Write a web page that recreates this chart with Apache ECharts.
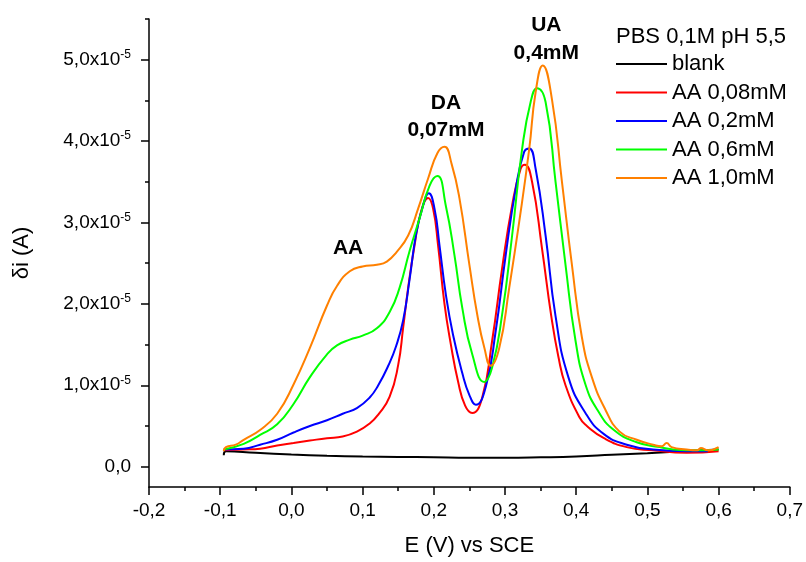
<!DOCTYPE html>
<html>
<head>
<meta charset="utf-8">
<script src="https://cdn.jsdelivr.net/npm/echarts@6/dist/echarts.min.js"></script>
<style>
  html, body { margin: 0; padding: 0; background: #ffffff; }
  #chart { width: 806px; height: 562px; }
</style>
</head>
<body>
<div id="chart"></div>
<script>
// Differential pulse voltammograms in PBS 0,1M pH 5,5.
// Potential E in V vs SCE, current δi in units of 1e-5 A.

const blankE = [-0.095, -0.092, -0.05, 0.0, 0.05, 0.1, 0.15, 0.2, 0.25, 0.3, 0.35, 0.4, 0.45, 0.5, 0.55, 0.6];
const blankI = [0.14, 0.19, 0.17, 0.15, 0.135, 0.125, 0.12, 0.115, 0.11, 0.11, 0.115, 0.125, 0.145, 0.165, 0.19, 0.21];

const aa008E = [-0.095, -0.067, -0.044, -0.020, 0.003, 0.026, 0.050, 0.072, 0.092, 0.110, 0.122, 0.138, 0.150, 0.157, 0.164, 0.173, 0.182, 0.192, 0.199, 0.206, 0.215, 0.224, 0.234, 0.244, 0.254, 0.268, 0.282, 0.296, 0.310, 0.322, 0.328, 0.338, 0.352, 0.365, 0.375, 0.385, 0.405, 0.415, 0.439, 0.471, 0.508, 0.555, 0.600];
const aa008I = [0.20, 0.21, 0.22, 0.26, 0.29, 0.32, 0.35, 0.37, 0.43, 0.53, 0.64, 0.86, 1.25, 1.71, 2.20, 2.72, 3.13, 3.30, 3.17, 2.72, 2.00, 1.50, 1.05, 0.75, 0.66, 0.85, 1.55, 2.44, 3.21, 3.66, 3.71, 3.50, 2.68, 1.85, 1.35, 1.00, 0.60, 0.50, 0.35, 0.24, 0.20, 0.17, 0.19];

const aa02E = [-0.095, -0.067, -0.044, -0.020, 0.003, 0.026, 0.050, 0.072, 0.092, 0.110, 0.122, 0.136, 0.147, 0.157, 0.166, 0.175, 0.185, 0.193, 0.201, 0.208, 0.217, 0.227, 0.240, 0.250, 0.259, 0.273, 0.287, 0.301, 0.315, 0.327, 0.334, 0.343, 0.357, 0.371, 0.389, 0.413, 0.439, 0.471, 0.508, 0.555, 0.585];
const aa02I = [0.21, 0.22, 0.27, 0.33, 0.42, 0.50, 0.57, 0.65, 0.72, 0.85, 1.00, 1.24, 1.48, 1.80, 2.30, 2.85, 3.21, 3.36, 3.17, 2.72, 2.11, 1.62, 1.15, 0.88, 0.76, 0.98, 1.67, 2.60, 3.41, 3.87, 3.91, 3.66, 2.84, 1.85, 1.10, 0.66, 0.40, 0.27, 0.21, 0.19, 0.19];

const aa06E = [-0.095, -0.067, -0.044, -0.020, 0.003, 0.026, 0.050, 0.064, 0.082, 0.100, 0.120, 0.138, 0.152, 0.166, 0.180, 0.194, 0.205, 0.217, 0.229, 0.240, 0.254, 0.271, 0.282, 0.296, 0.310, 0.324, 0.336, 0.345, 0.357, 0.371, 0.385, 0.399, 0.413, 0.431, 0.453, 0.485, 0.517, 0.536, 0.555, 0.580, 0.600];
const aa06I = [0.21, 0.28, 0.39, 0.52, 0.77, 1.10, 1.38, 1.49, 1.56, 1.61, 1.70, 1.90, 2.20, 2.65, 3.05, 3.45, 3.57, 3.20, 2.60, 1.95, 1.38, 1.04, 1.22, 1.87, 2.84, 3.90, 4.48, 4.65, 4.48, 3.50, 2.48, 1.55, 1.01, 0.68, 0.45, 0.30, 0.24, 0.21, 0.20, 0.20, 0.21];

const aa10E = [-0.095, -0.092, -0.078, -0.067, -0.044, -0.020, 0.003, 0.026, 0.050, 0.064, 0.082, 0.100, 0.120, 0.134, 0.148, 0.164, 0.178, 0.192, 0.205, 0.215, 0.225, 0.236, 0.250, 0.261, 0.271, 0.280, 0.292, 0.306, 0.320, 0.334, 0.343, 0.353, 0.366, 0.380, 0.394, 0.408, 0.422, 0.441, 0.461, 0.485, 0.508, 0.520, 0.527, 0.534, 0.555, 0.570, 0.575, 0.585, 0.600];
const aa10I = [0.19, 0.24, 0.27, 0.33, 0.45, 0.65, 1.01, 1.46, 1.98, 2.22, 2.40, 2.46, 2.48, 2.52, 2.64, 2.84, 3.17, 3.54, 3.85, 3.93, 3.72, 3.30, 2.48, 1.87, 1.46, 1.24, 1.46, 2.20, 3.01, 3.90, 4.60, 4.93, 4.51, 3.50, 2.48, 1.59, 1.10, 0.70, 0.43, 0.33, 0.27, 0.25, 0.29, 0.24, 0.21, 0.20, 0.23, 0.20, 0.24];

const seriesNames = ['blank', 'AA 0,08mM', 'AA 0,2mM', 'AA 0,6mM', 'AA 1,0mM'];
const seriesColors = ['#000000', '#ff0000', '#0000ff', '#00ff00', '#ff8000'];

// Peak annotations, centred at (E, δi)
const peakLabelE = [0.0796, 0.217, 0.217, 0.358, 0.358];
const peakLabelI = [2.68, 4.46, 4.13, 5.42, 5.08];
const peakLabelText = ['AA', 'DA', '0,07mM', 'UA', '0,4mM'];

const yMajorTicks = [0, 1, 2, 3, 4, 5];
const yMinorTicks = [0.5, 1.5, 2.5, 3.5, 4.5, 5.5];

const FONT = 'Arial, "Liberation Sans", sans-serif';

function pairs(e, i) {
  return e.map((x, k) => [x, i[k]]);
}

const curveData = [
  pairs(blankE, blankI),
  pairs(aa008E, aa008I),
  pairs(aa02E, aa02I),
  pairs(aa06E, aa06I),
  pairs(aa10E, aa10I)
];

const lineSeries = seriesNames.map((name, k) => ({
  name: name,
  type: 'line',
  data: curveData[k],
  showSymbol: false,
  symbol: 'none',
  smooth: 0.5,
  color: seriesColors[k],
  lineStyle: { width: 2, color: seriesColors[k] },
  z: 2 + k
}));

const chart = echarts.init(document.getElementById('chart'), null, { renderer: 'canvas' });

chart.setOption({
  animation: false,
  backgroundColor: '#ffffff',
  textStyle: { fontFamily: FONT },
  grid: { left: 149, right: 12, top: 19, bottom: 71, containLabel: false },
  legend: {
    data: seriesNames,
    orient: 'vertical',
    left: 616,
    top: 53,
    padding: 0,
    icon: 'rect',
    itemWidth: 51,
    itemHeight: 2,
    itemGap: 6.5,
    textStyle: { fontSize: 22, color: '#000000', fontFamily: FONT },
    selectedMode: false
  },
  xAxis: {
    type: 'value',
    min: -0.2,
    max: 0.7,
    interval: 0.1,
    name: 'E (V) vs SCE',
    nameLocation: 'middle',
    nameGap: 48,
    nameTextStyle: { fontSize: 22, color: '#000000', fontFamily: FONT },
    axisLine: { show: true, onZero: false, lineStyle: { color: '#000000', width: 1.5 } },
    axisTick: { show: true, inside: false, length: 8, lineStyle: { color: '#000000', width: 1.5 } },
    minorTick: { show: true, splitNumber: 2, length: 4, lineStyle: { color: '#000000', width: 1.5 } },
    axisLabel: {
      fontSize: 19,
      color: '#000000',
      margin: 14,
      fontFamily: FONT,
      formatter: v => (Math.round(v * 10) / 10).toFixed(1).replace('.', ',')
    },
    splitLine: { show: false },
    minorSplitLine: { show: false }
  },
  yAxis: [{
    type: 'value',
    min: -0.25,
    max: 5.5,
    position: 'left',
    name: 'δi (A)',
    nameLocation: 'middle',
    nameRotate: 90,
    nameGap: 116,
    nameTextStyle: { fontSize: 22, color: '#000000', fontFamily: FONT },
    axisLine: { show: true, onZero: false, lineStyle: { color: '#000000', width: 1.5 } },
    axisTick: { show: true, inside: false, length: 8, customValues: yMajorTicks, lineStyle: { color: '#000000', width: 1.5 } },
    axisLabel: {
      customValues: yMajorTicks,
      margin: 18,
      color: '#000000',
      fontFamily: FONT,
      formatter: v => v === 0 ? '{m|0,0}' : '{m|' + v.toFixed(1).replace('.', ',') + 'x10}{s|-5}',
      rich: {
        m: { fontSize: 19, color: '#000000', fontFamily: FONT, lineHeight: 22 },
        s: { fontSize: 12, color: '#000000', fontFamily: FONT, verticalAlign: 'top', lineHeight: 12 }
      }
    },
    splitLine: { show: false }
  }, {
    type: 'value',
    min: -0.25,
    max: 5.5,
    position: 'left',
    axisLine: { show: false, onZero: false },
    axisTick: { show: true, inside: false, length: 4, customValues: yMinorTicks, lineStyle: { color: '#000000', width: 1.5 } },
    axisLabel: { show: false },
    splitLine: { show: false }
  }],
  series: lineSeries
});

// Legend heading and peak annotations, placed through the axis scales
const annotations = peakLabelText.map((txt, k) => {
  const p = chart.convertToPixel({ xAxisIndex: 0, yAxisIndex: 0 }, [peakLabelE[k], peakLabelI[k]]);
  return {
    type: 'text',
    x: p[0],
    y: p[1],
    z: 100,
    style: {
      text: txt,
      font: 'bold 21px ' + FONT,
      fill: '#000000',
      align: 'center',
      verticalAlign: 'middle'
    }
  };
});

chart.setOption({
  graphic: [{
    type: 'text',
    left: 616,
    top: 26,
    style: { text: 'PBS 0,1M pH 5,5', font: '22px ' + FONT, fill: '#000000' }
  }].concat(annotations)
});
</script>
</body>
</html>
